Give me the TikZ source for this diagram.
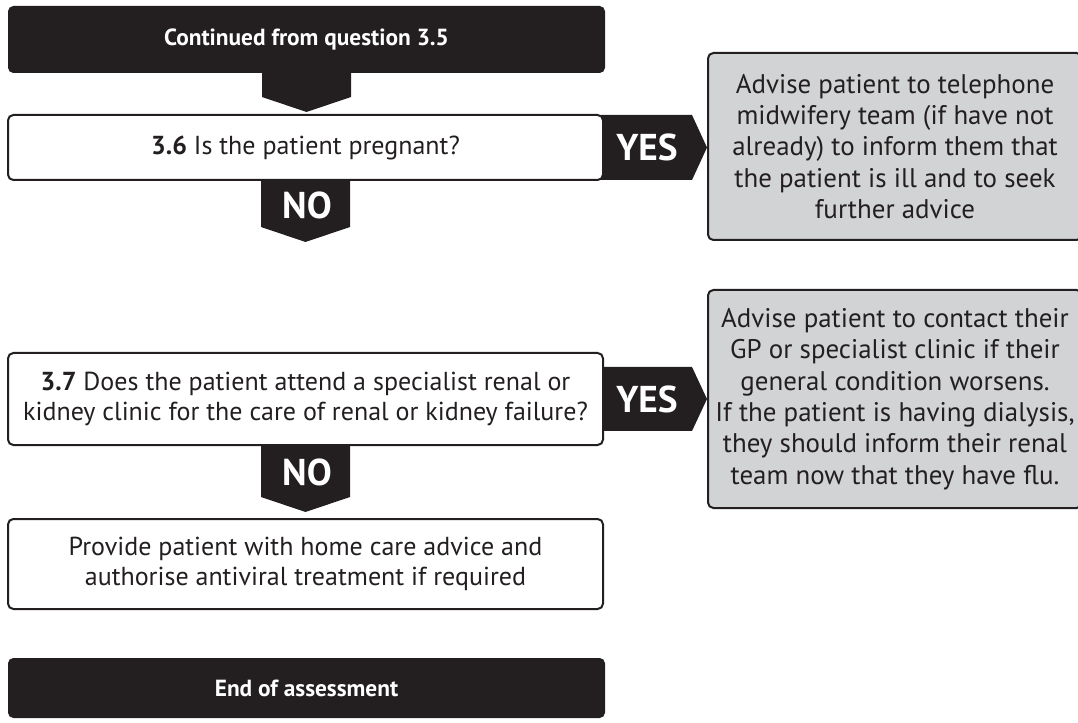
\documentclass[tikz,border=0pt]{standalone}
\usepackage{fontspec}
\setmainfont{PT Sans}
\usetikzlibrary{calc}
\definecolor{ink}{HTML}{231F20}
\definecolor{panel}{HTML}{D1D3D4}
\begin{document}
\begin{tikzpicture}[x=0.75pt,y=-0.75pt,
  every node/.style={inner sep=0pt, outer sep=0pt},
  darkbox/.style={fill=ink, rounded corners=4pt, text=white,
    font=\bfseries\fontsize{17.5}{22}\selectfont},
  qbox/.style={draw=ink, line width=1.5pt, fill=white, rounded corners=4pt,
    align=center, text=ink, font=\fontsize{19.5}{22}\selectfont},
  advice/.style={draw=ink, line width=1.5pt, fill=panel, rounded corners=4pt,
    align=center, text=ink, font=\fontsize{20.2}{23.5}\selectfont},
  tag/.style={fill=ink},
  taglabel/.style={text=white, font=\bfseries\fontsize{28}{28}\selectfont}
]
\useasboundingbox (0,0) rectangle (1078,723);

% arrow leaving the header (drawn first so the header sits on top)
\coordinate (hdr) at (306.5,39.5);
\fill[tag] ($(hdr)+(-44.5,30)$) -- ++(89,0) -- ++(0,27.5) -- ++(-44.5,15) -- ++(-44.5,-15) -- cycle;
\node[darkbox, minimum width=447.75pt, minimum height=50.25pt] (top) at (hdr) {Continued from question 3.5};

% question 3.6 and its branches
\coordinate (c36) at (305.5,147.5);
\fill[tag] ($(c36)+(-44.5,30)$) -- ++(89,0) -- ++(0,49.5) -- ++(-44.5,15) -- ++(-44.5,-15) -- cycle;
\fill[tag] ($(c36)+(295,-32.5)$) -- ++(91.5,0) -- ++(15,32.5) -- ++(-15,32.5) -- ++(-91.5,0) -- cycle;
\node[qbox, minimum width=446.25pt, minimum height=48.75pt] (q36) at (c36) {\textbf{3.6} Is the patient pregnant?};
\node[taglabel] (no36) at ($(q36.south)+(1.5,25)$) {NO};
\node[taglabel] (yes36) at ($(q36.east)+(44,0)$) {YES};

\node[advice, minimum width=280.5pt, minimum height=140.25pt] (ad36) at (895,146.5)
  {Advise patient to telephone\\midwifery team (if have not\\already) to inform them that\\the patient is ill and to seek\\further advice};

% question 3.7 and its branches
\coordinate (c37) at (305.5,399);
\fill[tag] ($(c37)+(-44.5,44)$) -- ++(89,0) -- ++(0,54) -- ++(-44.5,15) -- ++(-44.5,-15) -- cycle;
\fill[tag] ($(c37)+(295,-32)$) -- ++(91.5,0) -- ++(15,32) -- ++(-15,32) -- ++(-91.5,0) -- cycle;
\node[qbox, minimum width=446.25pt, minimum height=69pt] (q37) at (c37)
  {\textbf{3.7} Does the patient attend a specialist renal or\\kidney clinic for the care of renal or kidney failure?};
\node[taglabel] (no37) at ($(q37.south)+(1.5,27)$) {NO};
\node[taglabel] (yes37) at ($(q37.east)+(44,0)$) {YES};

\node[advice, minimum width=280.5pt, minimum height=163.5pt] (ad37) at (895,399)
  {Advise patient to contact their\\GP or specialist clinic if their\\general condition worsens.\\If the patient is having dialysis,\\they should inform their renal\\team now that they have flu.};

% outcome and end
\node[qbox, minimum width=446.25pt, minimum height=67.5pt] (home) at (305.5,564)
  {Provide patient with home care advice and\\authorise antiviral treatment if required};
\node[darkbox, minimum width=447.75pt, minimum height=45pt] (end) at (306.5,688) {End of assessment};
\end{tikzpicture}
\end{document}
